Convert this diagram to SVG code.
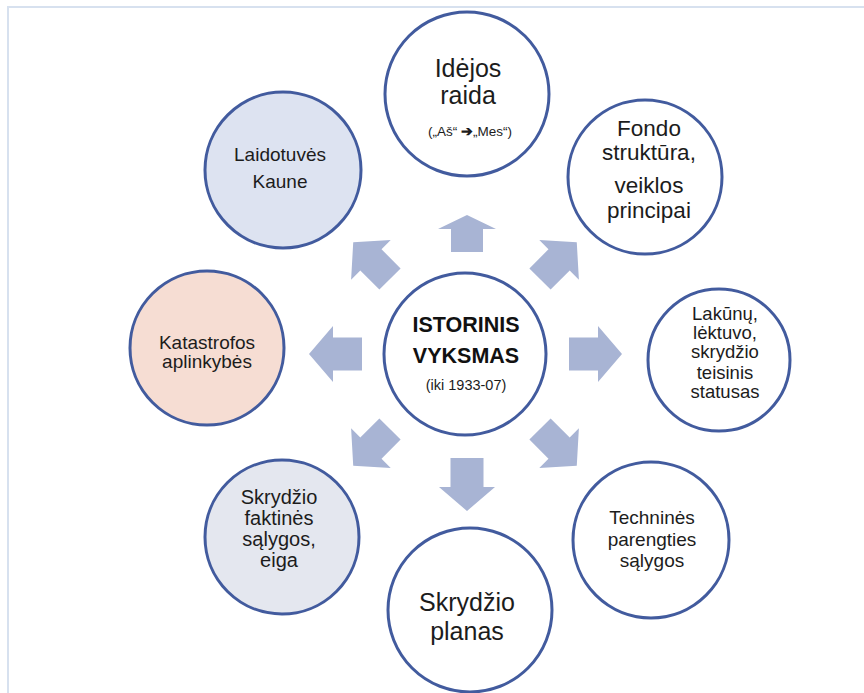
<svg xmlns="http://www.w3.org/2000/svg" xmlns:xlink="http://www.w3.org/1999/xlink" width="864" height="693" viewBox="0 0 864 693">
  <style>
    .node { stroke: #425b9e; stroke-width: 3; }
    .plain { fill: #ffffff; }
    .blue { fill: #dde3f1; }
    .rose { fill: #f6ddd3; }
    .grey { fill: #e4e7ef; }
    text { font-family: "Liberation Sans", Arial, sans-serif; fill: #1c1c1c; text-anchor: middle; }
    .big { font-size: 25px; }
    .mid { font-size: 22.5px; }
    .sm { font-size: 19px; }
    .fs { font-size: 20px; }
    .xs { font-size: 18.5px; }
    .tech { font-size: 19px; }
    .bold { font-weight: bold; font-size: 21.5px; fill: #111; }
    .arrow { fill: #a8b4d4; }
  </style>
  <defs>
    <!-- block arrow pointing along +x, tail at the origin -->
    <path id="blk" d="M0,-16.5 H29 V-28 L53,0 L29,28 V16.5 H0 Z"/>
    <path id="blkDiag" d="M0,-15 H27 V-28 L52,0 L27,28 V15 H0 Z"/>
  </defs>

  <rect width="864" height="693" fill="#ffffff"/>
  <!-- page frame -->
  <path d="M8,693 V7 H864" fill="none" stroke="#d7e1ef" stroke-width="2"/>

  <!-- connectors: block arrows radiating from the centre -->
  <g id="connectors" class="arrow">
    <path d="M451,252 V229 H438 L467,215 L496,229 H483 V252 Z"/>
    <use xlink:href="#blk" transform="translate(467,458) rotate(90)"/>
    <use xlink:href="#blk" transform="translate(569,354)"/>
    <use xlink:href="#blk" transform="translate(362,354) rotate(180)"/>
    <use xlink:href="#blkDiag" transform="translate(390,279) rotate(-135)"/>
    <use xlink:href="#blkDiag" transform="translate(540,279) rotate(-45)"/>
    <use xlink:href="#blkDiag" transform="translate(390,429) rotate(135)"/>
    <use xlink:href="#blkDiag" transform="translate(540,429) rotate(45)"/>
  </g>

  <g id="center">
    <circle class="node plain" cx="465" cy="354" r="81"/>
    <text class="bold" x="466" y="332">ISTORINIS</text>
    <text class="bold" x="466" y="363">VYKSMAS</text>
    <text x="466" y="390" font-size="14.5px">(iki 1933-07)</text>
  </g>

  <g id="ideja">
    <circle class="node plain" cx="467" cy="94" r="82"/>
    <text class="big" x="468" y="77">Idėjos</text>
    <text class="big" x="468" y="104">raida</text>
    <text x="470" y="136" font-size="13.5px">(„Aš“ <tspan font-weight="bold">➔</tspan>„Mes“)</text>
  </g>

  <g id="fondas">
    <circle class="node plain" cx="645" cy="177" r="77"/>
    <text class="mid" x="649" y="136">Fondo</text>
    <text class="mid" x="649" y="160">struktūra,</text>
    <text class="mid" x="649" y="193">veiklos</text>
    <text class="mid" x="649" y="218">principai</text>
  </g>

  <g id="statusas">
    <circle class="node plain" cx="719" cy="360" r="71"/>
    <text class="xs" x="725" y="320">Lakūnų,</text>
    <text class="xs" x="725" y="339">lėktuvo,</text>
    <text class="xs" x="725" y="358">skrydžio</text>
    <text class="xs" x="725" y="379">teisinis</text>
    <text class="xs" x="725" y="398">statusas</text>
  </g>

  <g id="technines">
    <circle class="node plain" cx="651" cy="540" r="78"/>
    <text class="tech" x="652" y="524">Techninės</text>
    <text class="tech" x="652" y="546">parengties</text>
    <text class="tech" x="652" y="567">sąlygos</text>
  </g>

  <g id="planas">
    <circle class="node plain" cx="470" cy="610" r="82"/>
    <text class="big" x="467" y="611" font-size="26px">Skrydžio</text>
    <text class="big" x="467" y="640" font-size="26px">planas</text>
  </g>

  <g id="faktines">
    <circle class="node grey" cx="282" cy="537" r="77"/>
    <text class="fs" x="279" y="504">Skrydžio</text>
    <text class="fs" x="279" y="525">faktinės</text>
    <text class="fs" x="279" y="546">sąlygos,</text>
    <text class="fs" x="279" y="567">eiga</text>
  </g>

  <g id="katastrofa">
    <circle class="node rose" cx="207" cy="348" r="77"/>
    <text class="sm" x="207" y="349">Katastrofos</text>
    <text class="sm" x="207" y="368">aplinkybės</text>
  </g>

  <g id="laidotuves">
    <circle class="node blue" cx="283" cy="170" r="78"/>
    <text class="sm" x="280" y="161">Laidotuvės</text>
    <text class="sm" x="280" y="188">Kaune</text>
  </g>
</svg>
